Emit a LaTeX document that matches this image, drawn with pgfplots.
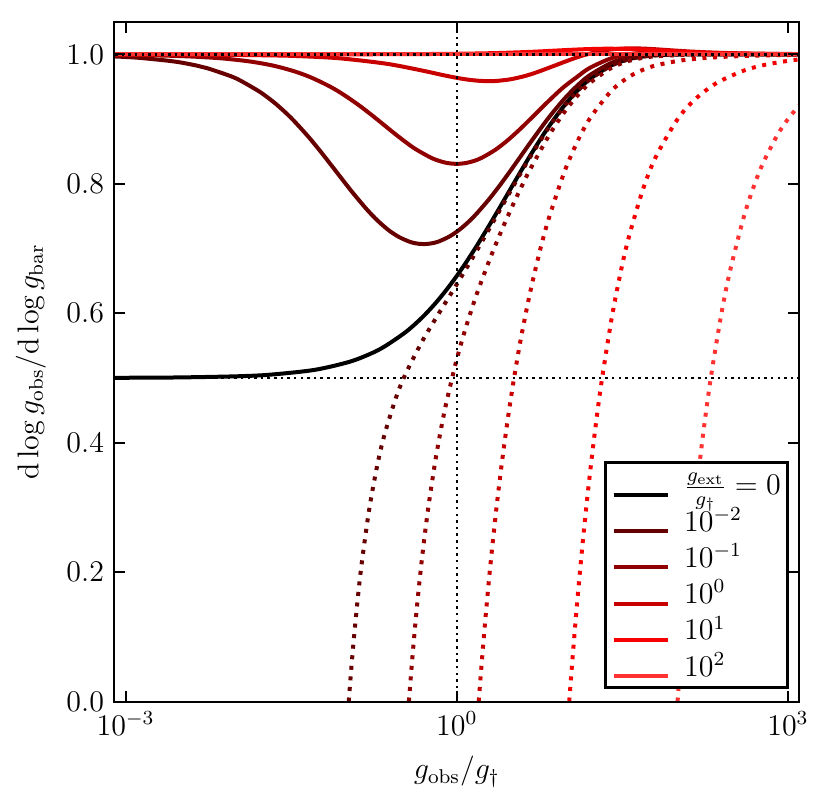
\documentclass[12pt,border=0pt]{standalone}
\usepackage{pgfplots}
\pgfplotsset{compat=1.18}
\definecolor{cA}{RGB}{102,0,0}
\definecolor{cB}{RGB}{145,0,0}
\definecolor{cC}{RGB}{200,0,0}
\definecolor{cD}{RGB}{245,0,0}
\definecolor{cE}{RGB}{255,50,50}
\begin{document}
\begin{tikzpicture}
\begin{axis}[
  scale only axis, width=273.8pt, height=271.8pt,
  xmode=log, xmin=7.943e-4, xmax=1258.9, ymin=0, ymax=1.05,
  xtick={1e-3,1,1e3}, xminorticks=false, yminorticks=false,
  ytick={0,0.2,0.4,0.6,0.8,1},
  tick align=inside, major tick length=4.4pt,
  every tick/.style={black, line width=0.8pt},
  axis line style={line width=0.8pt},
  axis on top,
  yticklabel style={/pgf/number format/.cd, fixed, fixed zerofill, precision=1},
  xlabel={$g_{\rm obs}/g_\dagger$},
  ylabel={$\mathrm{d}\log g_{\rm obs}/\mathrm{d}\log g_{\rm bar}$},
  legend cell align=left,
  legend image code/.code={\draw[#1, line width=1.6pt, solid] (0pt,0pt) -- (21.6pt,0pt);},
  legend style={at={(0.985,0.019)}, anchor=south east, draw=black, line width=1.1pt,
    fill=white, inner xsep=2.6pt, inner ysep=2.6pt, row sep=3.2pt,
    nodes={inner sep=0pt, anchor=base west},
    /tikz/every odd column/.style={column sep=5.8pt}},
  every axis plot/.append style={line width=1.6pt, smooth, line cap=butt},
  dotc/.style={dash pattern=on 1.6pt off 2.64pt},
]
% g_ext = 0
\addplot[black] coordinates {
(0.000794,0.50020) (0.0010005,0.50025) (0.0030045,0.50075) (0.01005,0.50250) (0.0202,0.50498)
(0.05126,0.51239) (0.10508,0.52458) (0.16153,0.53656) (0.22067,0.54834) (0.34725,0.57126)
(0.48532,0.59335) (0.63537,0.61463) (0.79789,0.63509) (0.97335,0.65475) (1.16222,0.67361)
(1.36495,0.69170) (1.58198,0.70901) (2.06066,0.74139) (2.60153,0.77088) (3.20761,0.79762)
(3.88163,0.82177) (4.62607,0.84348) (5.65895,0.86746) (6.80891,0.88822) (9.47157,0.92141)
(12.6314,0.94551) (16.2985,0.96269) (25.1696,0.98304) (36.0895,0.99255) (49.0447,0.99681)
(64.0215,0.99866) (100.0045,0.99977) (144.0,0.99996) (1260,1.0)};
\addlegendentry{\raisebox{0pt}[\dimexpr\height+1.6pt\relax][0.8pt]{$\frac{g_{\rm ext}}{g_\dagger}=0$}}
% g_ext = 1e-2
\addplot[cA] coordinates {
(0.00079,0.99678) (0.000805,0.99672) (0.0013238,0.99464) (0.0027595,0.98898) (0.0044184,0.98264)
(0.0055256,0.97851) (0.0088536,0.96663) (0.0110776,0.95909) (0.0166559,0.94145) (0.0222606,0.92537)
(0.0278919,0.91067) (0.0335497,0.89719) (0.0449453,0.87337) (0.0564479,0.85302) (0.0680629,0.83543)
(0.0856756,0.81344) (0.100018,0.79866) (0.115583,0.78514)
(0.152380,0.76088) (0.190180,0.74371) (0.242163,0.72813) (0.3,0.71776) (0.380236,0.71000)
(0.453737,0.70727) (0.530290,0.70696) (0.609967,0.70841) (0.692810,0.71110) (0.868267,0.71901)
(1.057135,0.72900) (1.259862,0.74014) (1.476894,0.75187) (1.955576,0.77581) (2.496447,0.79923)
(3.102531,0.82142) (3.776545,0.84203) (4.520987,0.86093) (6.703827,0.90070) (9.366487,0.93071)
(12.5263,0.95266) (16.1934,0.96833) (25.0645,0.98677) (35.9844,0.99517) (48.9396,0.99874)
(63.9164,1.00014) (99.8994,1.00073) (143.8958,1.00062) (224.895,1.00042) (399.895,1.00024)
(1260.15,1.00008)};
\addlegendentry{$10^{-2}$}
\addplot[cA, dotc, forget plot] coordinates {
(0.10508,0) (0.11061,0.04888) (0.11616,0.09146) (0.12734,0.16176) (0.13863,0.21712)
(0.16153,0.29809) (0.19076,0.36534) (0.22067,0.41126) (0.28255,0.47032) (0.34725,0.50778)
(0.48532,0.55627) (0.63537,0.59004) (0.79789,0.61745) (0.97335,0.64139) (1.16222,0.66308)
(1.36495,0.68316) (1.58198,0.70192) (2.06066,0.73624) (2.60153,0.76695) (3.20761,0.79450)
(3.88163,0.81923) (4.62607,0.84137) (6.80891,0.88680) (9.47157,0.92039) (12.6314,0.94474)
(16.2985,0.96209) (25.1696,0.98265) (36.0895,0.99227) (49.0447,0.99661) (64.0215,0.99850)
(100.0045,0.99967) (144.0,0.99989) (1260,1.0)};
% g_ext = 1e-1
\addplot[cB] coordinates {
(0.00079,0.99932) (0.000805,0.99931) (0.002,0.99829) (0.0040287,0.99659) (0.0075,0.99373)
(0.0134695,0.98892) (0.022,0.98240) (0.0338919,0.97372) (0.047653,0.96445)
(0.0685147,0.95169) (0.089642,0.94016) (0.1254507,0.92328) (0.169412,0.90632) (0.2144682,0.89223)
(0.266514,0.87917) (0.346186,0.86412) (0.429034,0.85302)
(0.604491,0.83913) (0.793359,0.83261) (0.996086,0.83082) (1.213118,0.83213) (1.444882,0.83553)
(1.691800,0.84033) (2.232671,0.85241) (2.838755,0.86606) (3.512769,0.88003) (4.257211,0.89365)
(6.440051,0.92407) (9.102711,0.94809) (12.26254,0.96500) (15.92964,0.97882) (24.80074,0.99367)
(35.72064,1.00001) (48.67584,1.00231) (63.65264,1.00288) (99.63564,1.00247) (143.632,1.00184)
(224.631,1.00120) (399.631,1.00067) (624.631,1.00043) (1259.88,1.00021)};
\addlegendentry{$10^{-1}$}
\addplot[cB, dotc, forget plot] coordinates {
(0.36886,0) (0.37393,0.01349) (0.38744,0.04723) (0.40107,0.07830) (0.42868,0.13352)
(0.45676,0.18111) (0.48532,0.22251) (0.51436,0.25886) (0.55882,0.30578) (0.63537,0.36878)
(0.71505,0.41836) (0.79789,0.45868) (0.97335,0.52113) (1.16222,0.56836) (1.36495,0.60630)
(1.58198,0.63811) (2.06066,0.68990) (2.60153,0.73155) (3.20761,0.76646) (3.88163,0.79641)
(4.62607,0.82239) (6.80891,0.87401) (9.47157,0.91117) (12.6314,0.93779) (16.2985,0.95667)
(25.1696,0.97911) (36.0895,0.98979) (49.0447,0.99478) (64.0215,0.99710) (100.0045,0.99877)
(144.0,0.99927) (225.0,0.99956) (1260,0.99992)};
% g_ext = 1
\addplot[cC] coordinates {
(0.00079,0.99994) (0.000897,0.99993) (0.004489,0.99966) (0.0225065,0.99831) (0.045161,0.99668)
(0.0909145,0.99358) (0.2317657,0.98546) (0.478682,0.97521) (0.741149,0.96813) (1.019553,0.96343)
(1.314263,0.96055) (1.625637,0.95905) (1.953982,0.95861) (2.299651,0.95897) (3.044093,0.96137)
(4.076973,0.96622) (5.226933,0.97192) (7.889593,0.98326) (11.049423,0.99265) (14.716523,0.99954)
(23.587623,1.00701) (34.507523,1.00921) (47.462723,1.00901) (62.4395,1.00796) (98.4225,1.00568)
(142.419,1.00405) (223.418,1.00261) (398.418,1.00146) (623.418,1.00093) (1258.668,1.00046)};
\addlegendentry{$10^{0}$}
\addplot[cC, dotc, forget plot] coordinates {
(1.58198,0) (1.62714,0.02766) (1.69599,0.06670) (1.81374,0.12593) (1.93528,0.17889)
(2.06066,0.22654) (2.32313,0.30886) (2.60153,0.37758) (2.89624,0.43588) (3.20761,0.48605)
(3.53596,0.52973) (3.88163,0.56814) (4.62607,0.63261) (5.65895,0.69611) (6.80891,0.74610)
(9.47157,0.81903) (12.6314,0.86833) (16.2985,0.90252) (25.1696,0.94372) (36.0895,0.96498)
(49.0447,0.97647) (64.0215,0.98306) (100.0045,0.98977) (144.0,0.99302) (225.0,0.99555)
(400.0,0.99750) (1024,0.99902) (1260,0.99921)};
% g_ext = 10
\addplot[cD] coordinates {
(0.00079,1.0) (0.05,1.00004) (0.233135,1.00023) (0.865034,1.00077) (2.189432,1.00192)
(4.328425,1.00363) (5.856513,1.00467) (10.035482,1.00674) (14.72759,1.00802) (19.932129,1.00860)
(25.647456,1.00869) (38.602721,1.00797) (53.57948,1.00683) (89.56254,1.00471) (133.55888,1.00327)
(214.55807,1.00206) (389.558,1.00114) (614.558,1.00072) (1249.808,1.00035) (1260,1.00035)};
\addlegendentry{$10^{1}$}
\addplot[cD, dotc, forget plot] coordinates {
(10.442,0) (10.551,0.01035) (10.675,0.02184) (10.989,0.04976) (11.307,0.07656)
(11.959,0.12703) (12.631,0.17367) (13.678,0.23724) (14.770,0.29411) (16.299,0.36101)
(18.324,0.43264) (20.477,0.49338) (25.170,0.58982) (30.374,0.66187) (36.089,0.71684)
(49.045,0.79338) (64.021,0.84262) (100.005,0.89980) (144.001,0.93052) (225.0,0.95556)
(400.0,0.97500) (625.0,0.98400) (1024,0.99023) (1260,0.99206)};
% g_ext = 100
\addplot[cE] coordinates {(0.00079,1.0) (1.0,1.0) (1260,1.0)};
\addlegendentry{$10^{2}$}
\addplot[cE, dotc, forget plot] coordinates {
(100.0045,0) (101,0.00986) (102,0.01956) (104,0.03841) (107,0.06536) (110,0.09085)
(115,0.13038) (120,0.16662) (130,0.23073) (140,0.28569) (150,0.33331) (170,0.41176)
(200,0.5) (250,0.6) (300,0.66667) (400,0.75) (500,0.8) (600,0.83333) (800,0.875)
(1000,0.9) (1260,0.92063)};
% reference lines
\addplot[black, line width=1pt, dash pattern=on 1pt off 1.65pt, sharp plot, forget plot] coordinates {(7.0e-4,1) (1400,1)};
\addplot[black, line width=1pt, dash pattern=on 1pt off 1.65pt, sharp plot, forget plot] coordinates {(7.0e-4,0.5) (1400,0.5)};
\addplot[black, line width=1pt, dash pattern=on 1pt off 1.65pt, sharp plot, forget plot] coordinates {(1,0) (1,1.06)};
\end{axis}
\pgfresetboundingbox
\path[use as bounding box] ([xshift=-45.8pt,yshift=-41.4pt]current axis.south west) rectangle ([xshift=12.8pt,yshift=8.8pt]current axis.north east);
\end{tikzpicture}
\end{document}
